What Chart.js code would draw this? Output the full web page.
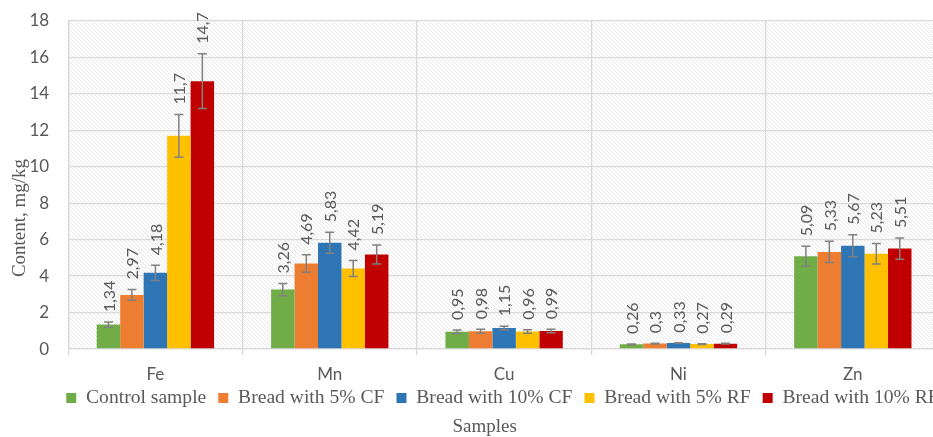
<!DOCTYPE html>
<html>
<head>
<meta charset="utf-8">
<script src="https://cdn.jsdelivr.net/npm/chart.js@4.4.1/dist/chart.umd.min.js"></script>
<style>
  html, body { margin: 0; padding: 0; overflow: hidden; background: #ffffff; }
  canvas { display: block; }
</style>
</head>
<body>
<canvas id="chart" width="960" height="437"></canvas>
<script>
// Trace element content of bread samples, mg/kg
const elements = ['Fe', 'Mn', 'Cu', 'Ni', 'Zn'];
const seriesNames = ['Control sample', 'Bread with 5% CF', 'Bread with 10% CF', 'Bread with 5% RF', 'Bread with 10% RF'];
const seriesColors = ['#70ad47', '#ed7d31', '#2e75b6', '#ffc000', '#c00000'];

const controlSample = [1.34, 3.26, 0.95, 0.26, 5.09];
const bread5CF      = [2.97, 4.69, 0.98, 0.30, 5.33];
const bread10CF     = [4.18, 5.83, 1.15, 0.33, 5.67];
const bread5RF      = [11.7, 4.42, 0.96, 0.27, 5.23];
const bread10RF     = [14.7, 5.19, 0.99, 0.29, 5.51];

// standard deviations shown as error bars
const controlSampleErr = [0.14, 0.34, 0.10, 0.02, 0.55];
const bread5CFErr      = [0.30, 0.48, 0.10, 0.02, 0.58];
const bread10CFErr     = [0.42, 0.58, 0.10, 0.02, 0.60];
const bread5RFErr      = [1.17, 0.44, 0.10, 0.02, 0.56];
const bread10RFErr     = [1.50, 0.52, 0.10, 0.02, 0.58];

const yTickValues = [0, 2, 4, 6, 8, 10, 12, 14, 16, 18];

const seriesValues = [controlSample, bread5CF, bread10CF, bread5RF, bread10RF];
const seriesErrors = [controlSampleErr, bread5CFErr, bread10CFErr, bread5RFErr, bread10RFErr];

const TEXT_GREY = '#595959';
const GRID_GREY = '#d9d9d9';
const SANS = 'Lato, "Liberation Sans", sans-serif';
const SERIF = '"Liberation Serif", "Times New Roman", serif';
const LEGEND_FONT_SIZE = 19.6;
const LEGEND_PAD = 12;

// light diagonal hatching behind the plot
const hatchTile = (() => {
  const c = document.createElement('canvas');
  c.width = 4; c.height = 4;
  const g = c.getContext('2d');
  g.fillStyle = '#ffffff';
  g.fillRect(0, 0, 4, 4);
  g.strokeStyle = '#e8e8e8';
  g.lineWidth = 1;
  g.beginPath();
  g.moveTo(0, 0); g.lineTo(4, 4);
  g.stroke();
  return c;
})();

const plotBackground = {
  id: 'plotBackground',
  beforeDraw(chart) {
    const { ctx, chartArea: a } = chart;
    ctx.save();
    ctx.fillStyle = ctx.createPattern(hatchTile, 'repeat');
    ctx.fillRect(a.left, a.top, a.right - a.left, a.bottom - a.top);
    ctx.restore();
  }
};

// error bars and rotated value labels
const errorBarsAndLabels = {
  id: 'errorBarsAndLabels',
  afterDatasetsDraw(chart) {
    const { ctx } = chart;
    const y = chart.scales.y;
    chart.data.datasets.forEach((ds, di) => {
      const meta = chart.getDatasetMeta(di);
      meta.data.forEach((bar, i) => {
        const v = ds.data[i];
        const e = ds.errors[i];
        const yTop = y.getPixelForValue(v + e);
        const yBot = y.getPixelForValue(v - e);
        const x = bar.x;
        const cap = 4.5;
        ctx.save();
        ctx.strokeStyle = '#808080';
        ctx.lineWidth = 1.5;
        ctx.beginPath();
        ctx.moveTo(x, yTop); ctx.lineTo(x, yBot);
        ctx.moveTo(x - cap, yTop); ctx.lineTo(x + cap, yTop);
        ctx.moveTo(x - cap, yBot); ctx.lineTo(x + cap, yBot);
        ctx.stroke();
        ctx.translate(x, yTop - 10);
        ctx.rotate(-Math.PI / 2);
        ctx.fillStyle = TEXT_GREY;
        ctx.font = '16px ' + SANS;
        ctx.textAlign = 'left';
        ctx.textBaseline = 'middle';
        ctx.fillText(String(v).replace('.', ','), 0, 1);
        ctx.restore();
      });
    });
  }
};

// vertical axis title
const yAxisTitle = {
  id: 'yAxisTitle',
  afterDraw(chart) {
    const { ctx, chartArea: a } = chart;
    ctx.save();
    ctx.translate(20, (a.top + a.bottom) / 2 + 33);
    ctx.rotate(-Math.PI / 2);
    ctx.fillStyle = TEXT_GREY;
    ctx.font = '19px ' + SERIF;
    ctx.textAlign = 'center';
    ctx.textBaseline = 'middle';
    ctx.fillText('Content, mg/kg', 0, 0);
    ctx.restore();
  }
};

// legend row: starts at the plot's left edge, sits between the
// category labels and the axis title
const legendPlacement = {
  id: 'legendPlacement',
  afterLayout(chart) {
    const lg = chart.legend;
    if (!lg) return;
    const a = chart.chartArea;
    const dx = a.left - 2 - (lg.left + LEGEND_PAD);
    lg.left += dx;
    lg.right += dx;
    const rowCenter = a.bottom + 49;
    const top = rowCenter - LEGEND_PAD - LEGEND_FONT_SIZE / 2;
    lg.bottom += top - lg.top;
    lg.top = top;
  }
};

new Chart(document.getElementById('chart'), {
  type: 'bar',
  data: {
    labels: elements,
    datasets: seriesNames.map((name, k) => ({
      label: name,
      data: seriesValues[k],
      errors: seriesErrors[k],
      backgroundColor: seriesColors[k],
      borderWidth: 0,
      categoryPercentage: 0.673,
      barPercentage: 1.0
    }))
  },
  options: {
    responsive: false,
    animation: false,
    devicePixelRatio: 1,
    layout: { padding: { left: 29.5, right: 20, top: 21, bottom: 0 } },
    scales: {
      x: {
        grid: {
          color: GRID_GREY, lineWidth: 1.3, offset: true,
          drawTicks: true, tickLength: 18, tickBorderDash: [6, 60]
        },
        border: { color: GRID_GREY, width: 1.3 },
        ticks: {
          color: TEXT_GREY,
          padding: 0,
          font: { family: SANS, size: 17, lineHeight: 0.94 }
        }
      },
      y: {
        min: 0,
        max: 18,
        afterBuildTicks(scale) {
          scale.ticks = yTickValues.map(v => ({ value: v }));
        },
        grid: { color: GRID_GREY, lineWidth: 1.3, drawTicks: true, tickLength: 19, tickColor: 'rgba(0,0,0,0)' },
        border: { color: GRID_GREY, width: 1.3 },
        ticks: {
          color: TEXT_GREY,
          padding: 0,
          font: { family: SANS, size: 17 }
        }
      }
    },
    plugins: {
      legend: {
        position: 'bottom',
        align: 'start',
        maxHeight: 35,
        labels: {
          color: TEXT_GREY,
          boxWidth: 10,
          boxHeight: 10,
          padding: LEGEND_PAD,
          font: { family: SERIF, size: LEGEND_FONT_SIZE }
        }
      },
      title: {
        display: true,
        position: 'bottom',
        text: 'Samples',
        color: TEXT_GREY,
        font: { family: SERIF, size: 19, weight: 'normal', lineHeight: 1.0 },
        padding: { top: 0, bottom: 0 }
      },
      tooltip: { enabled: false }
    }
  },
  plugins: [plotBackground, errorBarsAndLabels, yAxisTitle, legendPlacement]
});
</script>
</body>
</html>
